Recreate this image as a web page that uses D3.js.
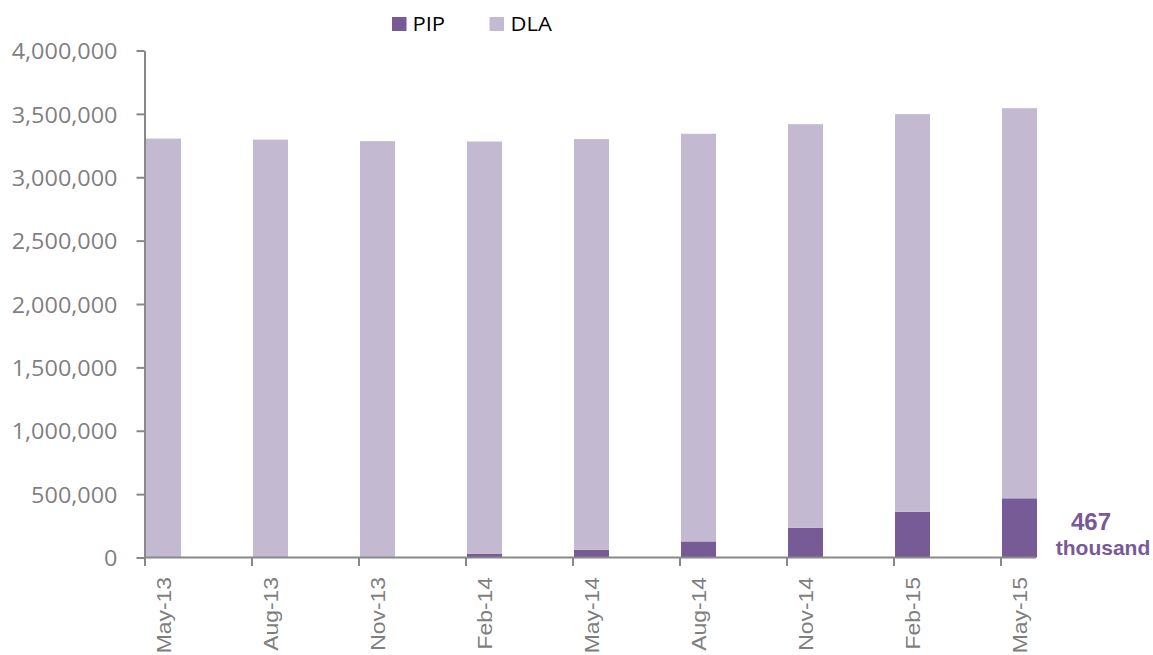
<!DOCTYPE html>
<html>
<head>
<meta charset="utf-8">
<script src="https://cdn.jsdelivr.net/npm/d3@7"></script>
<style>
html,body{margin:0;padding:0;background:#fff;}
svg{display:block;}
</style>
</head>
<body>
<svg id="chart" width="1153" height="655"></svg>
<script>
const categories = ["May-13","Aug-13","Nov-13","Feb-14","May-14","Aug-14","Nov-14","Feb-15","May-15"];
const pipValues = [0, 0, 5000, 28000, 60000, 127000, 235000, 361000, 467000];
const dlaValues = [3305000, 3297000, 3280000, 3254000, 3241000, 3216000, 3184000, 3137000, 3078000];
const seriesNames = ["PIP", "DLA"];
const yTicks = [0, 500000, 1000000, 1500000, 2000000, 2500000, 3000000, 3500000, 4000000];
const annotationLines = ["467", "thousand"];

const colors = {PIP: "#765b97", DLA: "#c3bad1"};
const axisColor = "#888888";
const labelColor = "#7f7f7f";

const svg = d3.select("#chart");

const x = d3.scaleBand().domain(categories).range([145, 1036]).paddingInner(0.673).paddingOuter(0);
const y = d3.scaleLinear().domain([0, 4000000]).range([557.5, 50.5]);

const rows = categories.map((c, i) => ({cat: c, PIP: pipValues[i], DLA: dlaValues[i]}));
const stack = d3.stack().keys(seriesNames)(rows);

// bars
svg.append("g").selectAll("g").data(stack).join("g")
  .attr("fill", d => colors[d.key])
  .selectAll("rect").data(d => d).join("rect")
  .attr("x", d => x(d.data.cat) + 1)
  .attr("width", x.bandwidth())
  .attr("y", d => y(d[1]))
  .attr("height", d => Math.max(0, y(d[0]) - y(d[1])));

// y axis
const yAxis = d3.axisLeft(y).tickValues(yTicks).tickFormat(d3.format(",")).tickSize(8).tickSizeOuter(0);
const gy = svg.append("g").attr("transform", "translate(144.5,0)").call(yAxis);
gy.select(".domain").attr("stroke", axisColor).attr("stroke-width", 2);
gy.selectAll(".tick line").attr("stroke", axisColor).attr("stroke-width", 2);
gy.selectAll(".tick text")
  .attr("fill", labelColor)
  .attr("font-family", "'Open Sans', sans-serif")
  .attr("font-size", 21.5)
  .attr("dy", null)
  .attr("x", null)
  .attr("text-anchor", "end")
  .attr("dominant-baseline", "central")
  .attr("transform", "translate(-27,0) scale(1.09,1)");

// x axis (ticks at band starts, labels at band centers)
const gx = svg.append("g");
gx.append("line")
  .attr("x1", x.range()[0] - 1).attr("x2", x.range()[1])
  .attr("y1", y(0)).attr("y2", y(0))
  .attr("stroke", axisColor).attr("stroke-width", 2);
gx.selectAll("line.tick").data(categories).join("line")
  .attr("class", "tick")
  .attr("x1", d => x(d)).attr("x2", d => x(d))
  .attr("y1", y(0)).attr("y2", y(0) + 8.5)
  .attr("stroke", axisColor).attr("stroke-width", 2);
gx.selectAll("text").data(categories).join("text")
  .attr("transform", d => `translate(${x(d) + x.bandwidth() / 2 + 1.5},${y(0) + 19.5}) rotate(-90) scale(1.09,1)`)
  .attr("text-anchor", "end")
  .attr("dy", "0.35em")
  .attr("fill", labelColor)
  .attr("font-family", "'Liberation Sans', Arial, sans-serif")
  .attr("font-size", 21)
  .text(d => d);

// legend
const legend = svg.append("g");
const legendItems = [{k: "PIP", sx: 392, tx: 412.5}, {k: "DLA", sx: 489.5, tx: 510.5}];
legendItems.forEach(it => {
  legend.append("rect").attr("x", it.sx).attr("y", 17).attr("width", 14.5).attr("height", 14).attr("fill", colors[it.k]);
  legend.append("text")
    .attr("transform", `translate(${it.tx},31) scale(1.1,1)`)
    .attr("font-family", "'Open Sans', sans-serif")
    .attr("font-size", 20)
    .attr("fill", "#000")
    .text(it.k);
});

// annotation
const ann = svg.append("g").attr("fill", "#775a98").attr("font-family", "'Liberation Sans', Arial, sans-serif").attr("font-weight", "bold").attr("text-anchor", "middle");
ann.append("text").attr("x", 1091).attr("y", 530).attr("font-size", 24).text(annotationLines[0]);
ann.append("text").attr("x", 1103).attr("y", 555).attr("font-size", 21).text(annotationLines[1]);
</script>
</body>
</html>
